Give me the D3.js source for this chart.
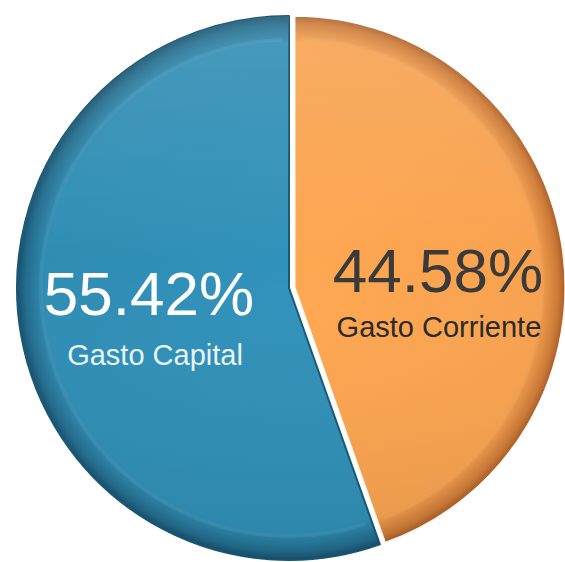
<!DOCTYPE html>
<html>
<head>
    <meta charset="utf-8">
    <title>Gasto</title>
    <script src="https://d3js.org/d3.v7.min.js"></script>
    <style>
        body { margin: 0; background: #fff; }
        text { font-family: "Liberation Sans", Arial, sans-serif; text-anchor: middle; }
    </style>
</head>
<body>
<svg width="565" height="562"></svg>
<script>
    var categories = ["Gasto Corriente", "Gasto Capital"];
    var values = [44.58, 55.42];
    var labels = ["44.58%", "55.42%"];
    var colors = ["#f8a24f", "#2f8db4"];
    var rims = ["#a85a22", "#17506c"];
    var textColors = ["#3a3a3a", "#ffffff"];

    var svg = d3.select("svg"),
        cx = 289, cy = 288, r = 272;

    var defs = svg.append("defs");
    colors.forEach(function (c, i) {
        var g = defs.append("radialGradient")
            .attr("id", "grad" + i)
            .attr("gradientUnits", "userSpaceOnUse")
            .attr("cx", 0).attr("cy", 0).attr("r", r);
        g.append("stop").attr("offset", "0%").attr("stop-color", d3.color(c).brighter(0.1));
        g.append("stop").attr("offset", "90%").attr("stop-color", c);
        g.append("stop").attr("offset", "97%").attr("stop-color", d3.interpolateRgb(c, rims[i])(0.55));
        g.append("stop").attr("offset", "100%").attr("stop-color", rims[i]);
    });
    // soft top light
    var lg = defs.append("linearGradient").attr("id", "light")
        .attr("x1", 0).attr("y1", 0).attr("x2", 0).attr("y2", 1);
    lg.append("stop").attr("offset", "0%").attr("stop-color", "#fff").attr("stop-opacity", 0.12);
    lg.append("stop").attr("offset", "45%").attr("stop-color", "#fff").attr("stop-opacity", 0);
    lg.append("stop").attr("offset", "100%").attr("stop-color", "#000").attr("stop-opacity", 0.06);

    var pie = d3.pie().sort(null).value(function (d) { return d; });
    var arcs = pie(values);
    var arc = d3.arc().innerRadius(0).outerRadius(r);
    var bevel = d3.arc().innerRadius(r - 26).outerRadius(r - 22);

    var container = svg.append("g").attr("transform", "translate(" + cx + "," + cy + ")");

    var offset = 5;
    var slice = container.selectAll(".slice")
        .data(arcs)
        .enter().append("g")
        .attr("class", "slice")
        .attr("transform", function (d, i) {
            if (i !== 0) return null;
            var a = (d.startAngle + d.endAngle) / 2;
            return "translate(" + (Math.sin(a) * offset) + "," + (-Math.cos(a) * offset) + ")";
        });

    slice.append("path")
        .attr("d", arc)
        .attr("fill", function (d, i) { return "url(#grad" + i + ")"; })
        .attr("stroke", function (d, i) { return i === 0 ? "#fff" : "#1a5874"; })
        .attr("stroke-width", function (d, i) { return i === 0 ? 3 : 2; })
        .attr("stroke-linejoin", "round");

    slice.append("path")
        .attr("d", arc)
        .attr("fill", "url(#light)");

    // faint bevel highlight just inside the rim
    slice.append("path")
        .attr("d", function (d) {
            return bevel({startAngle: d.startAngle + 0.03, endAngle: d.endAngle - 0.03});
        })
        .attr("fill", "#fff")
        .attr("opacity", 0.06);

    // label positions (percentage + name), relative to slice center
    var labelPos = [[144, 5, 145, 50], [-140, 27, -134, 77]];

    slice.append("text")
        .attr("x", function (d, i) { return labelPos[i][0]; })
        .attr("y", function (d, i) { return labelPos[i][1]; })
        .attr("font-size", 62)
        .attr("fill", function (d, i) { return textColors[i]; })
        .text(function (d, i) { return labels[i]; });

    slice.append("text")
        .attr("x", function (d, i) { return labelPos[i][2]; })
        .attr("y", function (d, i) { return labelPos[i][3]; })
        .attr("font-size", 29)
        .attr("fill", function (d, i) { return i === 0 ? "#2a2a2a" : "#e8f4f8"; })
        .text(function (d, i) { return categories[i]; });
</script>
</body>
</html>
